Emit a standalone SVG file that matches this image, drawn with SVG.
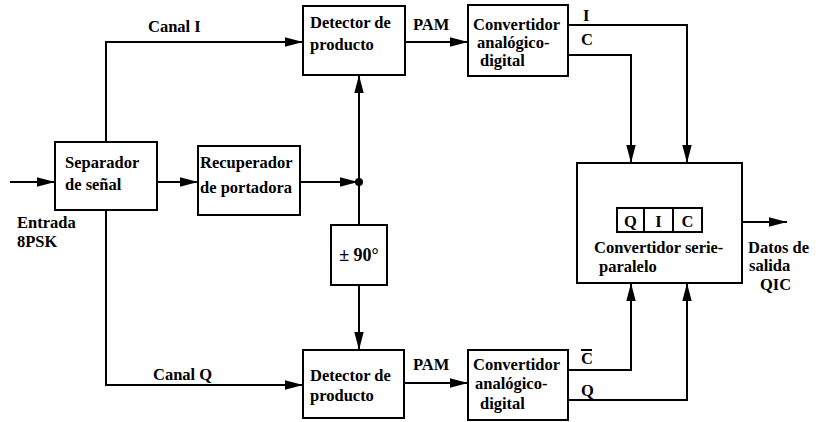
<svg xmlns="http://www.w3.org/2000/svg" width="830" height="422" viewBox="0 0 830 422">
<style>
.box{fill:#fff;stroke:#000;stroke-width:2}
.ln{fill:none;stroke:#000;stroke-width:2}
.ar{marker-end:url(#ah)}
.c{text-anchor:middle}
</style>
<defs>
<marker id="ah" markerUnits="userSpaceOnUse" markerWidth="19" markerHeight="11" refX="18" refY="5.5" orient="auto">
<path d="M0,0.8 L18,5.5 L0,10.2 z" fill="#000"/>
</marker>
</defs>
<rect width="830" height="422" fill="#fff"/>
<g id="connectors">
<path class="ln ar" d="M10,182 H55"/>
<path class="ln ar" d="M106,142 V42 H303"/>
<path class="ln ar" d="M106,210 V385 H303"/>
<path class="ln ar" d="M157,182 H198"/>
<path class="ln ar" d="M300,182 H358"/>
<path class="ln ar" d="M359,182 V75"/>
<path class="ln" d="M359,182 V225"/>
<path class="ln ar" d="M359,285 V350"/>
<path class="ln ar" d="M405,42 H468"/>
<path class="ln ar" d="M404,383 H468"/>
<path class="ln ar" d="M568,25 H687 V163"/>
<path class="ln ar" d="M568,55 H631 V163"/>
<path class="ln ar" d="M568,370 H631 V283"/>
<path class="ln ar" d="M568,400 H687 V283"/>
<path class="ln ar" d="M742,222 H787"/>
<circle cx="359" cy="182" r="4" fill="#000"/>
</g>
<g font-family="Liberation Serif, Times New Roman, serif" font-size="16.5" font-weight="bold" fill="#000">
<g id="entrada">
<text x="17" y="228">Entrada</text>
<text x="17" y="247">8PSK</text>
</g>
<g id="separador">
<rect class="box" x="55" y="142" width="102" height="68"/>
<text x="65" y="168">Separador</text>
<text x="65" y="190">de señal</text>
</g>
<g id="recuperador">
<rect class="box" x="198" y="146" width="102" height="69"/>
<text x="200" y="168">Recuperador</text>
<text x="200" y="193">de portadora</text>
</g>
<g id="desfase">
<rect class="box" x="331" y="225" width="56" height="60"/>
<text class="c" x="359" y="261" font-size="18">± 90°</text>
</g>
<g id="detector-i">
<rect class="box" x="303" y="6" width="102" height="69"/>
<text x="310" y="28">Detector de</text>
<text x="310" y="50">producto</text>
</g>
<g id="detector-q">
<rect class="box" x="303" y="350" width="101" height="68"/>
<text x="310" y="381">Detector de</text>
<text x="310" y="401">producto</text>
</g>
<g id="labels">
<text x="148" y="32">Canal I</text>
<text x="153" y="380">Canal Q</text>
<text x="413" y="30">PAM</text>
<text x="413" y="370">PAM</text>
<text x="583" y="21">I</text>
<text x="581" y="45">C</text>
<text x="581" y="364">C</text>
<path class="ln" d="M581,350 H592" stroke-width="1.5"/>
<text x="581" y="396">Q</text>
</g>
<g id="adc-i">
<rect class="box" x="468" y="5" width="100" height="71"/>
<text x="473" y="30">Convertidor</text>
<text x="477" y="48">analógico-</text>
<text x="480" y="66">digital</text>
</g>
<g id="adc-q">
<rect class="box" x="468" y="350" width="100" height="70"/>
<text x="473" y="370">Convertidor</text>
<text x="475" y="389">analógico-</text>
<text x="480" y="409">digital</text>
</g>
<g id="serie-paralelo">
<rect class="box" x="577" y="163" width="165" height="120"/>
<rect class="box" x="617" y="208" width="85" height="24"/>
<path class="ln" d="M644,208 V232 M673,208 V232"/>
<text class="c" x="630.5" y="227">Q</text>
<text class="c" x="658.5" y="227">I</text>
<text class="c" x="687.5" y="227">C</text>
<text x="594" y="253">Convertidor serie-</text>
<text x="599" y="272">paralelo</text>
</g>
<g id="salida">
<text x="748" y="253">Datos de</text>
<text x="749" y="271">salida</text>
<text x="760" y="290">QIC</text>
</g>
</g>
</svg>
